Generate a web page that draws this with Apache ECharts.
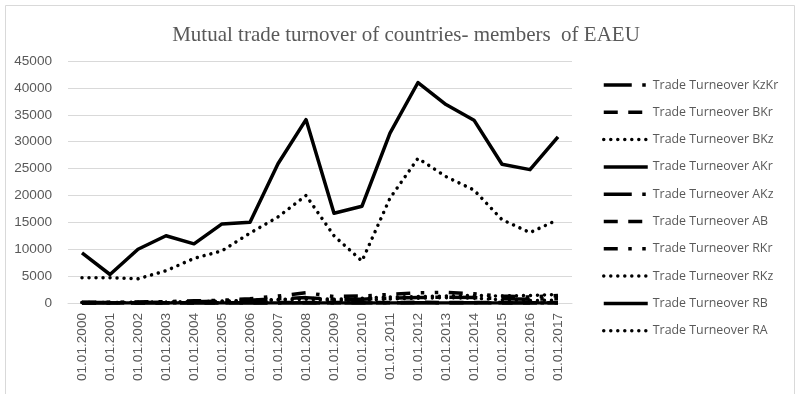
<!DOCTYPE html>
<html>
<head>
<meta charset="utf-8">
<script src="https://cdn.jsdelivr.net/npm/echarts@6/dist/echarts.min.js"></script>
<style>
  html, body { margin: 0; padding: 0; background: #fff; }
  #chart { width: 800px; height: 394px; }
</style>
</head>
<body>
<div id="chart"></div>
<script>
// Years of observation (category axis)
const categories = [
  '01.01.2000', '01.01.2001', '01.01.2002', '01.01.2003', '01.01.2004', '01.01.2005',
  '01.01.2006', '01.01.2007', '01.01.2008', '01.01.2009', '01.01.2010', '01.01.2011',
  '01.01.2012', '01.01.2013', '01.01.2014', '01.01.2015', '01.01.2016', '01.01.2017'
];

// Trade turnover between pairs of member states
const tradeKzKr = [90, 80, 110, 150, 250, 350, 500, 800, 1000, 700, 700, 900, 1000, 1100, 1000, 800, 700, 800];
const tradeBKr  = [20, 15, 20, 25, 35, 45, 60, 80, 110, 70, 80, 100, 120, 110, 100, 70, 60, 70];
const tradeBKz  = [80, 70, 100, 140, 220, 300, 420, 550, 700, 450, 500, 750, 900, 1000, 900, 600, 450, 550];
const tradeAKr  = [2, 2, 3, 3, 4, 5, 6, 8, 10, 8, 8, 10, 12, 12, 10, 8, 8, 9];
const tradeAKz  = [5, 4, 6, 8, 10, 12, 15, 20, 25, 18, 20, 25, 30, 28, 25, 20, 18, 20];
const tradeAB   = [10, 8, 10, 12, 15, 20, 25, 35, 45, 35, 40, 50, 55, 50, 45, 35, 30, 35];
const tradeRKr  = [150, 120, 200, 250, 400, 500, 800, 1300, 1900, 1200, 1300, 1600, 1900, 2000, 1700, 1300, 1100, 1400];
const tradeRKz  = [4700, 4700, 4500, 6000, 8300, 9700, 13000, 16000, 20000, 12500, 7800, 19500, 26900, 23500, 21000, 15500, 13100, 15500];
const tradeRB   = [9300, 5300, 10000, 12500, 11000, 14700, 15000, 25900, 34100, 16700, 18000, 31600, 41000, 36900, 34000, 25800, 24800, 30900];
const tradeRA   = [100, 100, 130, 150, 250, 350, 500, 650, 900, 700, 900, 1100, 1200, 1300, 1400, 1300, 1400, 1600];

// Value axis range
const yMin = 0;
const yMax = 45000;
const yStep = 5000;

const seriesNames = [
  'Trade Turneover KzKr', 'Trade Turneover BKr', 'Trade Turneover BKz', 'Trade Turneover AKr',
  'Trade Turneover AKz', 'Trade Turneover AB', 'Trade Turneover RKr', 'Trade Turneover RKz',
  'Trade Turneover RB', 'Trade Turneover RA'
];
const seriesData = [tradeKzKr, tradeBKr, tradeBKz, tradeAKr, tradeAKz, tradeAB, tradeRKr, tradeRKz, tradeRB, tradeRA];

// Line dash patterns (px) for each series, drawn with a 3.5px stroke
const longDashDot = { type: [28, 10.5, 3.5, 10.5], cap: 'butt' };
const dash        = { type: [14, 10.5], cap: 'butt' };
const roundDot    = { type: [0.01, 7], cap: 'round' };
const solid       = { type: 'solid', cap: 'butt' };
const dashDotDot  = { type: [14, 10.5, 3.5, 10.5, 3.5, 10.5], cap: 'butt' };
const dashes = [longDashDot, dash, roundDot, solid, longDashDot, dash, dashDotDot, roundDot, solid, roundDot];

const chart = echarts.init(document.getElementById('chart'), null, { renderer: 'canvas' });

const series = seriesNames.map((name, i) => ({
  name: name,
  type: 'line',
  data: seriesData[i],
  symbol: 'none',
  smooth: false,
  lineStyle: {
    color: '#000',
    width: 3.5,
    type: dashes[i].type,
    cap: dashes[i].cap,
    join: 'round'
  },
  itemStyle: { color: '#000' }
}));

chart.setOption({
  animation: false,
  backgroundColor: '#fff',
  title: {
    text: 'Mutual trade turnover of countries- members  of EAEU',
    left: 401,
    top: 20,
    textAlign: 'center',
    textStyle: {
      fontFamily: 'Liberation Serif',
      fontWeight: 'normal',
      fontSize: 21,
      color: '#595959'
    }
  },
  graphic: [{
    type: 'rect',
    shape: { x: 5.5, y: 5.5, width: 789, height: 392 },
    style: { fill: 'none', stroke: '#d9d9d9', lineWidth: 1 },
    silent: true,
    z: -10
  }],
  legend: {
    orient: 'vertical',
    left: 597,
    top: 74,
    itemWidth: 44,
    itemHeight: 14,
    itemGap: 15.3,
    data: seriesNames,
    itemStyle: { color: 'transparent', borderColor: 'transparent', borderWidth: 0 },
    lineStyle: { width: 3.5 },
    textStyle: {
      fontFamily: 'Open Sans',
      fontSize: 12.4,
      color: '#595959'
    }
  },
  grid: {
    left: 68,
    right: 228,
    top: 61,
    bottom: 91,
    containLabel: false
  },
  xAxis: {
    type: 'category',
    data: categories,
    boundaryGap: true,
    axisLine: { lineStyle: { color: '#d9d9d9', width: 1 } },
    axisTick: { show: false },
    axisLabel: {
      rotate: 90,
      interval: 0,
      margin: 10,
      fontFamily: 'Liberation Sans',
      fontSize: 13.6,
      color: '#595959'
    }
  },
  yAxis: {
    type: 'value',
    min: yMin,
    max: yMax,
    interval: yStep,
    axisLine: { show: false },
    axisTick: { show: false },
    splitLine: { lineStyle: { color: '#d9d9d9', width: 1 } },
    axisLabel: {
      margin: 16,
      formatter: v => String(v),
      fontFamily: 'Liberation Sans',
      fontSize: 13.6,
      color: '#595959'
    }
  },
  series: series
});
</script>
</body>
</html>
